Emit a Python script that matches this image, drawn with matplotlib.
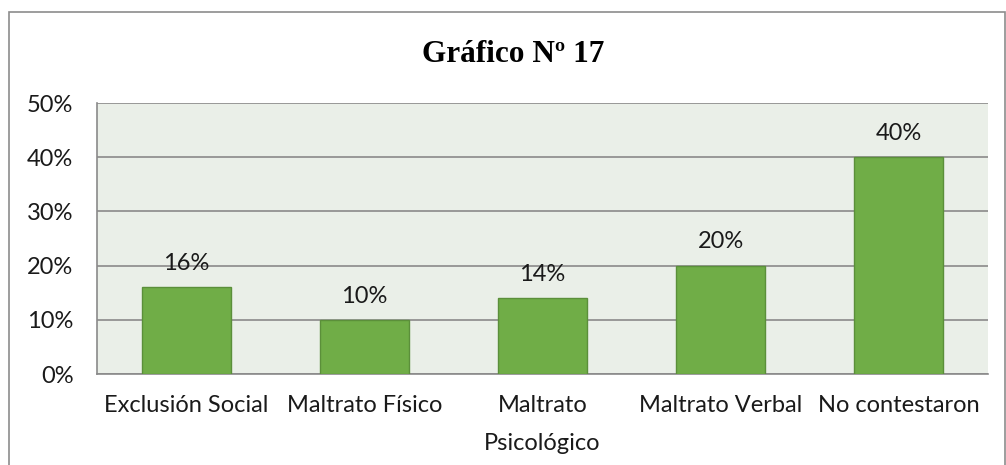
import matplotlib.pyplot as plt
from matplotlib.patches import Rectangle
from matplotlib.ticker import FuncFormatter

categorias = ["Exclusión Social", "Maltrato Físico", "Maltrato\nPsicológico",
              "Maltrato Verbal", "No contestaron"]
valores = [0.16, 0.10, 0.14, 0.20, 0.40]
etiquetas = ["16%", "10%", "14%", "20%", "40%"]
titulo = "Gráfico Nº 17"

W, H = 1006, 465
fig = plt.figure(figsize=(W / 100, H / 100), dpi=100)

# outer chart border
fig.patches.append(Rectangle((9 / W, -0.05), (1005 - 9) / W, 1.05 - 12 / H,
                             transform=fig.transFigure, fill=False,
                             edgecolor="#8c8c8c", linewidth=1.2))

ax = fig.add_axes([97 / W, 1 - 374 / H, (988 - 97) / W, (374 - 103) / H])
ax.set_facecolor("#eaefe8")

x = range(len(categorias))
ax.bar(x, valores, width=0.5, color="#70ad47", edgecolor="#5b8f3a", linewidth=1, zorder=3)
for xi, v, lab in zip(x, valores, etiquetas):
    ax.annotate(lab, (xi, v), xytext=(0, 17), textcoords="offset points",
                ha="center", va="center", fontsize=17, family="Lato", color="#1a1a1a")

ax.set_xlim(-0.5, len(categorias) - 0.5)
ax.set_ylim(0, 0.5)
ax.set_yticks([0, 0.1, 0.2, 0.3, 0.4, 0.5])
ax.yaxis.set_major_formatter(FuncFormatter(lambda v, p: "{:.0f}%".format(v * 100)))
ax.grid(axis="y", color="#8a8a8a", linewidth=1.2, zorder=0)
ax.set_xticks(list(x))
ax.set_xticklabels(categorias, linespacing=2.0)
ax.tick_params(length=0, labelsize=17, colors="#1a1a1a")
ax.tick_params(axis="x", pad=15)
ax.tick_params(axis="y", pad=17)
for lab in ax.get_xticklabels() + ax.get_yticklabels():
    lab.set_family("Lato")
for s in ["top", "right"]:
    ax.spines[s].set_visible(False)
ax.spines["left"].set_color("#8a8a8a")
ax.spines["bottom"].set_color("#8a8a8a")
ax.spines["left"].set_linewidth(1.2)
ax.spines["bottom"].set_linewidth(1.2)

fig.text(513 / W, 1 - 54 / H, titulo, ha="center", va="center", fontsize=22.5,
         fontweight="bold", family="Liberation Serif")

fig.savefig("out.png", dpi=100)
